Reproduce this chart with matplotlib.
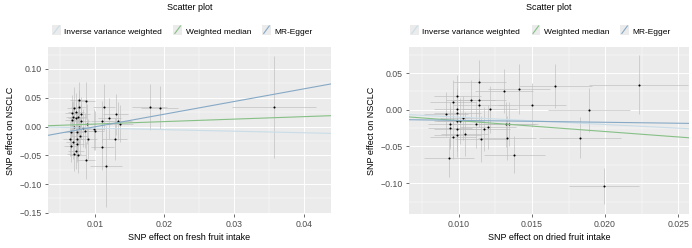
import matplotlib
matplotlib.use("Agg")
import matplotlib.pyplot as plt
from matplotlib.legend_handler import HandlerBase
from matplotlib.patches import Rectangle
from matplotlib.lines import Line2D
import numpy as np

plt.rcParams['font.family'] = ['Liberation Sans', 'DejaVu Sans']

# ---------------- data: fresh fruit intake ----------------
fresh_x = [0.0077, 0.0087, 0.0070, 0.0077, 0.0113, 0.0067, 0.0073, 0.0130, 0.0081, 0.0069,
           0.0076, 0.0067, 0.0073, 0.0121, 0.0179, 0.0193, 0.0357, 0.0081, 0.0110, 0.0134,
           0.0089, 0.0136, 0.0070, 0.0077, 0.0083, 0.0099, 0.0100, 0.0066, 0.0074, 0.0086,
           0.0079, 0.0064, 0.0074, 0.0090, 0.0129, 0.0069, 0.0074, 0.0066, 0.0111, 0.0073,
           0.0070, 0.0076, 0.0087, 0.0116]
fresh_y = [0.0466, 0.045, 0.033, 0.034, 0.034, 0.024, 0.026, 0.021, 0.022, 0.017,
           0.017, 0.012, 0.014, 0.014, 0.034, 0.033, 0.034, 0.009, 0.009, 0.009,
           0.005, 0.005, 0.000, -0.001, -0.002, -0.005, -0.007, -0.010, -0.009, -0.007,
           -0.017, -0.021, -0.022, -0.022, -0.022, -0.026, -0.031, -0.033, -0.036, -0.043,
           -0.047, -0.050, -0.059, -0.069]
fresh_sex = [0.0012, 0.0013, 0.0010, 0.0011, 0.0016, 0.0010, 0.0011, 0.0018, 0.0012, 0.0010,
             0.0011, 0.0010, 0.0011, 0.0017, 0.0025, 0.0027, 0.0060, 0.0012, 0.0016, 0.0019,
             0.0013, 0.0019, 0.0010, 0.0011, 0.0012, 0.0014, 0.0014, 0.0010, 0.0011, 0.0012,
             0.0011, 0.0009, 0.0011, 0.0013, 0.0018, 0.0010, 0.0011, 0.0010, 0.0016, 0.0011,
             0.0010, 0.0011, 0.0013, 0.0023]
fresh_sey = [0.030, 0.032, 0.035, 0.030, 0.040, 0.030, 0.033, 0.035, 0.030, 0.028,
             0.031, 0.030, 0.029, 0.035, 0.040, 0.038, 0.088, 0.030, 0.036, 0.033,
             0.035, 0.032, 0.030, 0.031, 0.033, 0.036, 0.034, 0.029, 0.032, 0.030,
             0.031, 0.030, 0.032, 0.035, 0.036, 0.031, 0.030, 0.029, 0.040, 0.030,
             0.031, 0.030, 0.033, 0.070]

# ---------------- data: dried fruit intake ----------------
dried_x = [0.0114, 0.0131, 0.0141, 0.0166, 0.0223, 0.0099, 0.0096, 0.0108, 0.0114, 0.0114,
           0.0150, 0.0099, 0.0121, 0.0189, 0.0091, 0.0099, 0.0103, 0.0099, 0.0101, 0.0094,
           0.0094, 0.0099, 0.0112, 0.0117, 0.0120, 0.0132, 0.0134, 0.0096, 0.0099, 0.0104,
           0.0115, 0.0133, 0.0183, 0.0138, 0.0093, 0.0199]
dried_y = [0.038, 0.026, 0.028, 0.032, 0.034, 0.019, 0.010, 0.013, 0.013, 0.006,
           0.007, 0.001, 0.001, 0.000, -0.006, -0.004, -0.011, -0.015, -0.015, -0.020,
           -0.025, -0.026, -0.020, -0.026, -0.023, -0.020, -0.020, -0.037, -0.035, -0.033,
           -0.040, -0.038, -0.038, -0.061, -0.065, -0.104]
dried_sex = [0.0018, 0.0020, 0.0021, 0.0025, 0.0034, 0.0016, 0.0016, 0.0017, 0.0018, 0.0018,
             0.0023, 0.0016, 0.0019, 0.0028, 0.0015, 0.0016, 0.0016, 0.0016, 0.0016, 0.0015,
             0.0015, 0.0016, 0.0018, 0.0018, 0.0019, 0.0020, 0.0020, 0.0016, 0.0016, 0.0016,
             0.0018, 0.0020, 0.0028, 0.0021, 0.0017, 0.0024]
dried_sey = [0.030, 0.030, 0.034, 0.030, 0.040, 0.028, 0.030, 0.028, 0.030, 0.030,
             0.030, 0.029, 0.032, 0.030, 0.030, 0.028, 0.030, 0.029, 0.031, 0.030,
             0.028, 0.030, 0.032, 0.030, 0.030, 0.031, 0.030, 0.030, 0.029, 0.030,
             0.031, 0.030, 0.028, 0.025, 0.027, 0.025]

methods = ["Inverse variance weighted", "Weighted median", "MR-Egger"]
fresh_slopes = [-0.27, 0.43, 2.2]
fresh_intercepts = [0.0, 0.0, -0.0225]
dried_slopes = [-1.0, -1.48, -0.26]
dried_intercepts = [0.0, 0.0, -0.0118]

fresh_xticks = [0.01, 0.02, 0.03, 0.04]
fresh_xticklabels = ["0.01", "0.02", "0.03", "0.04"]
fresh_yticks = [-0.15, -0.10, -0.05, 0.00, 0.05, 0.10]
fresh_yticklabels = ["\u22120.15", "\u22120.10", "\u22120.05", "0.00", "0.05", "0.10"]
dried_xticks = [0.010, 0.015, 0.020, 0.025]
dried_xticklabels = ["0.010", "0.015", "0.020", "0.025"]
dried_yticks = [-0.10, -0.05, 0.00, 0.05]
dried_yticklabels = ["\u22120.10", "\u22120.05", "0.00", "0.05"]

line_colors = ["#c9dde8", "#86c086", "#86a9c6"]
FS = 6.0


class DiagHandler(HandlerBase):
    def create_artists(self, legend, orig, xd, yd, w, h, fontsize, trans):
        bg = Rectangle((xd, yd - 1), w, h + 2, facecolor="#ebebeb", edgecolor="none",
                       transform=trans)
        ln = Line2D([xd + 1, xd + w - 1], [yd, yd + h], color=orig.get_color(),
                    lw=0.8, transform=trans)
        return [bg, ln]


def style(ax, xlim, ylim, xt, xtl, yt, ytl, xlabel):
    ax.set_facecolor("#ebebeb")
    for s in ax.spines.values():
        s.set_visible(False)
    ax.set_xticks(xt)
    ax.set_xticklabels(xtl)
    ax.set_yticks(yt)
    ax.set_yticklabels(ytl)
    xminor = [(a + b) / 2 for a, b in zip(xt[:-1], xt[1:])]
    d = xt[1] - xt[0]
    xminor = [xt[0] - d / 2] + xminor + [xt[-1] + d / 2]
    yminor = [(a + b) / 2 for a, b in zip(yt[:-1], yt[1:])]
    dy = yt[1] - yt[0]
    yminor = [yt[0] - dy / 2] + yminor + [yt[-1] + dy / 2]
    ax.set_xticks(xminor, minor=True)
    ax.set_yticks(yminor, minor=True)
    ax.set_xlim(*xlim)
    ax.set_ylim(*ylim)
    ax.tick_params(which="minor", length=0)
    ax.tick_params(which="major", length=2.5, width=0.5, color="#333333",
                   labelsize=FS + 0.3, labelcolor="#4d4d4d", pad=2)
    ax.grid(which="major", color="white", lw=0.7)
    ax.grid(which="minor", color="white", lw=0.35)
    ax.set_axisbelow(True)
    ax.set_xlabel(xlabel, fontsize=FS + 0.5, labelpad=3)
    ax.set_ylabel("SNP effect on NSCLC", fontsize=FS + 0.5, labelpad=3)
    ax.set_title("Scatter plot", fontsize=FS + 0.5, pad=27)


def panel(ax, x, y, sex, sey, slopes, ints, leg_x):
    ax.errorbar(x, y, yerr=sey, xerr=sex, fmt="none", ecolor="#bdbdbd",
                elinewidth=0.45, capsize=0, zorder=2)
    ax.scatter(x, y, s=2.2, color="black", zorder=3, linewidths=0)
    handles = []
    for m, sl, ic, c in zip(methods, slopes, ints, line_colors):
        ax.axline((0, ic), slope=sl, color=c, lw=0.8, zorder=4)
        handles.append(Line2D([], [], color=c, label=m))
    ax.legend(handles=handles, loc="lower center", bbox_to_anchor=(leg_x, 1.0),
              ncol=3, frameon=False, fontsize=FS,
              handler_map={Line2D: DiagHandler()},
              handlelength=1.0, handleheight=1.0, handletextpad=0.45,
              columnspacing=1.35, borderaxespad=0.9)


fig = plt.figure(figsize=(6.92, 2.48), dpi=100)
ax1 = fig.add_axes([0.0694, 0.137, 0.4090, 0.673])
ax2 = fig.add_axes([0.5910, 0.137, 0.4047, 0.673])

panel(ax1, fresh_x, fresh_y, fresh_sex, fresh_sey, fresh_slopes, fresh_intercepts, 0.475)
style(ax1, (0.0033, 0.0439), (-0.152, 0.138), fresh_xticks, fresh_xticklabels,
      fresh_yticks, fresh_yticklabels, "SNP effect on fresh fruit intake")

panel(ax2, dried_x, dried_y, dried_sex, dried_sey, dried_slopes, dried_intercepts, 0.47)
style(ax2, (0.00658, 0.02575), (-0.142, 0.0854), dried_xticks, dried_xticklabels,
      dried_yticks, dried_yticklabels, "SNP effect on dried fruit intake")

fig.savefig("out.png", dpi=100)
